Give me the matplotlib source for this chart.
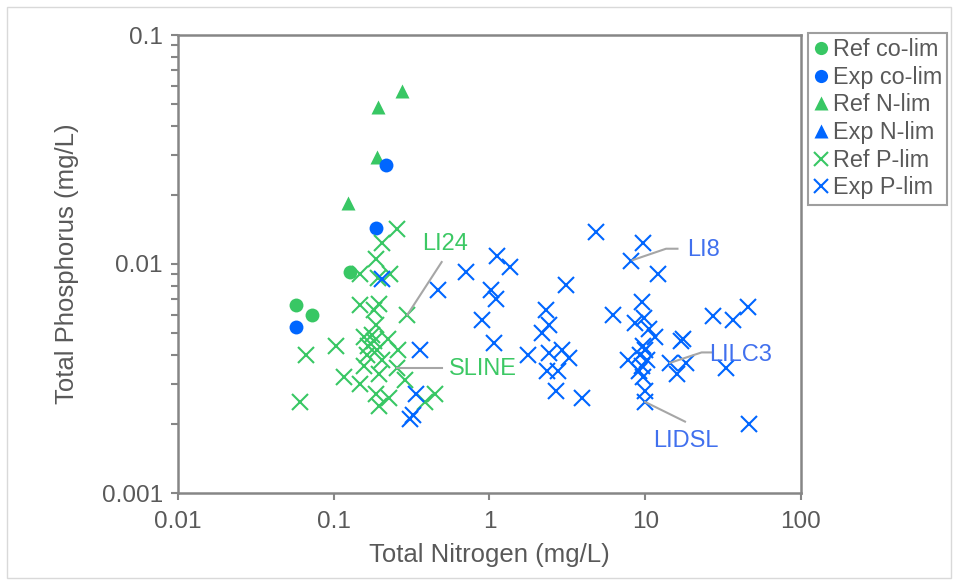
"""
TN vs TP scatter (log-log) for reference and experimental lakes,
split by nutrient limitation class.
"""
import matplotlib
matplotlib.use("Agg")
import matplotlib.pyplot as plt
from matplotlib.patches import Rectangle
from matplotlib.ticker import FixedLocator, LogLocator, NullFormatter

plt.rcParams['font.family'] = ['Liberation Sans', 'DejaVu Sans']

GREEN = '#38C764'
BLUE = '#0066FF'
GREEN_TXT = '#3CC864'
BLUE_TXT = '#4170EE'
GREY_TXT = '#595959'
AXIS_GREY = '#868686'
LEADER = '#A6A6A6'

# --- data (mg/L) ---
ref_colim_tn = [0.127, 0.057, 0.073]
ref_colim_tp = [0.0092, 0.0066, 0.0060]

exp_colim_tn = [0.057, 0.217, 0.187]
exp_colim_tp = [0.0053, 0.0271, 0.0143]

ref_nlim_tn = [0.276, 0.192, 0.190, 0.124]
ref_nlim_tp = [0.0571, 0.0483, 0.0294, 0.0185]

exp_nlim_tn = []
exp_nlim_tp = []

ref_plim_tn = [0.256, 0.203, 0.187, 0.147, 0.230, 0.192, 0.147, 0.196, 0.180, 0.297,
               0.187, 0.156, 0.175, 0.224, 0.103, 0.066, 0.167, 0.190, 0.260, 0.163,
               0.156, 0.196, 0.254, 0.116, 0.147, 0.287, 0.187, 0.227, 0.196, 0.061,
               0.45, 0.385, 0.182, 0.205]
ref_plim_tp = [0.0142, 0.0124, 0.0105, 0.0090, 0.0090, 0.0087, 0.0066, 0.0067, 0.0063, 0.0060,
               0.0054, 0.0048, 0.0049, 0.0047, 0.0044, 0.0040, 0.0044, 0.0042, 0.0042, 0.0040,
               0.0036, 0.0033, 0.0035, 0.0032, 0.0030, 0.0031, 0.0027, 0.0026, 0.0024, 0.0025,
               0.0027, 0.0025, 0.0046, 0.0038]

exp_plim_tn = [0.203, 0.465, 0.358, 0.337, 0.324, 0.309,
               1.12, 1.35, 0.707, 1.03, 1.10, 0.89, 1.07, 1.76,
               2.30, 2.42, 2.16, 2.42, 2.91, 3.25, 2.33, 2.77, 2.67, 3.10, 3.91,
               4.83, 9.72, 8.16, 12.0, 6.24, 9.49, 8.59, 9.82, 10.5, 11.6,
               9.72, 9.96, 9.25, 7.78, 10.2, 9.49, 9.16, 9.72, 9.96, 9.96,
               17.5, 16.9, 14.4, 18.3, 16.1,
               27.4, 36.8, 45.5, 33.0, 46.6]
exp_plim_tp = [0.0086, 0.0077, 0.0042, 0.0027, 0.0022, 0.0021,
               0.0108, 0.0097, 0.0092, 0.0077, 0.0070, 0.0057, 0.0045, 0.0040,
               0.0063, 0.0054, 0.0050, 0.0041, 0.0042, 0.0039, 0.0034, 0.0034, 0.0028, 0.0081, 0.0026,
               0.0138, 0.0124, 0.0103, 0.0090, 0.0060, 0.0068, 0.0055, 0.0058, 0.0052, 0.0048,
               0.0044, 0.0042, 0.0040, 0.0038, 0.0038, 0.0036, 0.0034, 0.0032, 0.0028, 0.0025,
               0.0047, 0.0046, 0.0037, 0.0037, 0.0033,
               0.0059, 0.0057, 0.0065, 0.0035, 0.0020]

# labelled lakes: name, colour, leader path (x list, y list), text position
label_names = ["LI24", "SLINE", "LI8", "LILC3", "LIDSL"]
label_colors = [GREEN_TXT, GREEN_TXT, BLUE_TXT, BLUE_TXT, BLUE_TXT]
leader_x = [[0.297, 0.493], [0.254, 0.493], [8.3, 13.6, 16.1], [14.4, 23.0, 26.7], [9.96, 18.0]]
leader_y = [[0.0060, 0.0102], [0.0035, 0.0035], [0.0104, 0.01166, 0.01166],
            [0.0037, 0.00411, 0.00411], [0.0025, 0.00205]]
label_x = [0.52, 0.91, 23.5, 41.2, 18.3]
label_y = [0.0122, 0.00348, 0.0115, 0.0040, 0.00169]

xticks = [0.01, 0.1, 1, 10, 100]
xtick_labels = ["0.01", "0.1", "1", "10", "100"]
yticks = [0.001, 0.01, 0.1]
ytick_labels = ["0.001", "0.01", "0.1"]

fig = plt.figure(figsize=(9.54, 5.80), dpi=100)
ax = fig.add_axes([178 / 954, 1 - 493 / 580, 623 / 954, 458 / 580])

# thin frame around whole chart (like the Excel chart area)
fig.patches.append(Rectangle((0.007, 0.004), 0.99, 0.984, transform=fig.transFigure,
                             fill=False, edgecolor='#D9D9D9', linewidth=1.0))

ms_dot = 10
ms_x = 11
mew_x = 1.5

ax.plot(ref_colim_tn, ref_colim_tp, 'o', color=GREEN, ms=ms_dot, mec='none', label="Ref co-lim", zorder=3)
ax.plot(ref_nlim_tn, ref_nlim_tp, '^', color=GREEN, ms=ms_dot, mec='none', label="Ref N-lim", zorder=3)
ax.plot(exp_colim_tn, exp_colim_tp, 'o', color=BLUE, ms=ms_dot, mec='none', label="Exp co-lim", zorder=4)
ax.plot(exp_nlim_tn, exp_nlim_tp, '^', color=BLUE, ms=ms_dot, mec='none', label="Exp N-lim", zorder=4)
ax.plot(ref_plim_tn, ref_plim_tp, 'x', color=GREEN, ms=ms_x, mew=mew_x, label="Ref P-lim", zorder=5)
ax.plot(exp_plim_tn, exp_plim_tp, 'x', color=BLUE, ms=ms_x, mew=mew_x, label="Exp P-lim", zorder=6)

for name, col, lx, ly, tx, ty in zip(label_names, label_colors, leader_x, leader_y, label_x, label_y):
    ax.plot(lx, ly, '-', color=LEADER, lw=1.5, zorder=7)
    ax.text(tx, ty, name, color=col, fontsize=17, ha='center', va='center', zorder=8)

ax.set_xscale('log')
ax.set_yscale('log')
ax.set_xlim(0.01, 100)
ax.set_ylim(0.001, 0.1)

ax.xaxis.set_major_locator(FixedLocator(xticks))
ax.set_xticklabels(xtick_labels)
ax.xaxis.set_minor_locator(FixedLocator([]))
ax.yaxis.set_major_locator(FixedLocator(yticks))
ax.set_yticklabels(ytick_labels)
ax.yaxis.set_minor_locator(LogLocator(base=10, subs=range(2, 10)))
ax.yaxis.set_minor_formatter(NullFormatter())

for s in ax.spines.values():
    s.set_color(AXIS_GREY)
    s.set_linewidth(1.8)

ax.tick_params(axis='both', which='major', direction='out', length=5, width=1.5,
               color=AXIS_GREY, labelcolor=GREY_TXT, labelsize=17.5, pad=6)
ax.tick_params(axis='y', which='minor', direction='out', length=5, width=1.5, color=AXIS_GREY)
ax.tick_params(axis='x', which='major', pad=8)

ax.set_xlabel("Total Nitrogen (mg/L)", fontsize=18.5, color=GREY_TXT, labelpad=7)
ax.set_ylabel("Total Phosphorus (mg/L)", fontsize=18.5, color=GREY_TXT, labelpad=16)

handles, labels = ax.get_legend_handles_labels()
order = ["Ref co-lim", "Exp co-lim", "Ref N-lim", "Exp N-lim", "Ref P-lim", "Exp P-lim"]
hmap = dict(zip(labels, handles))
leg = fig.legend([hmap[k] for k in order], order, loc='upper left',
                 bbox_to_anchor=(808 / 954, 1 - 33 / 580), borderaxespad=0,
                 fontsize=16.8, frameon=True, fancybox=False, handlelength=0.65,
                 handletextpad=0.2, labelspacing=0.2, borderpad=0.22,
                 markerscale=0.95)
leg.get_frame().set_edgecolor(AXIS_GREY)
leg.get_frame().set_linewidth(1.5)
for t in leg.get_texts():
    t.set_color(GREY_TXT)

fig.savefig("out.png", dpi=100)
